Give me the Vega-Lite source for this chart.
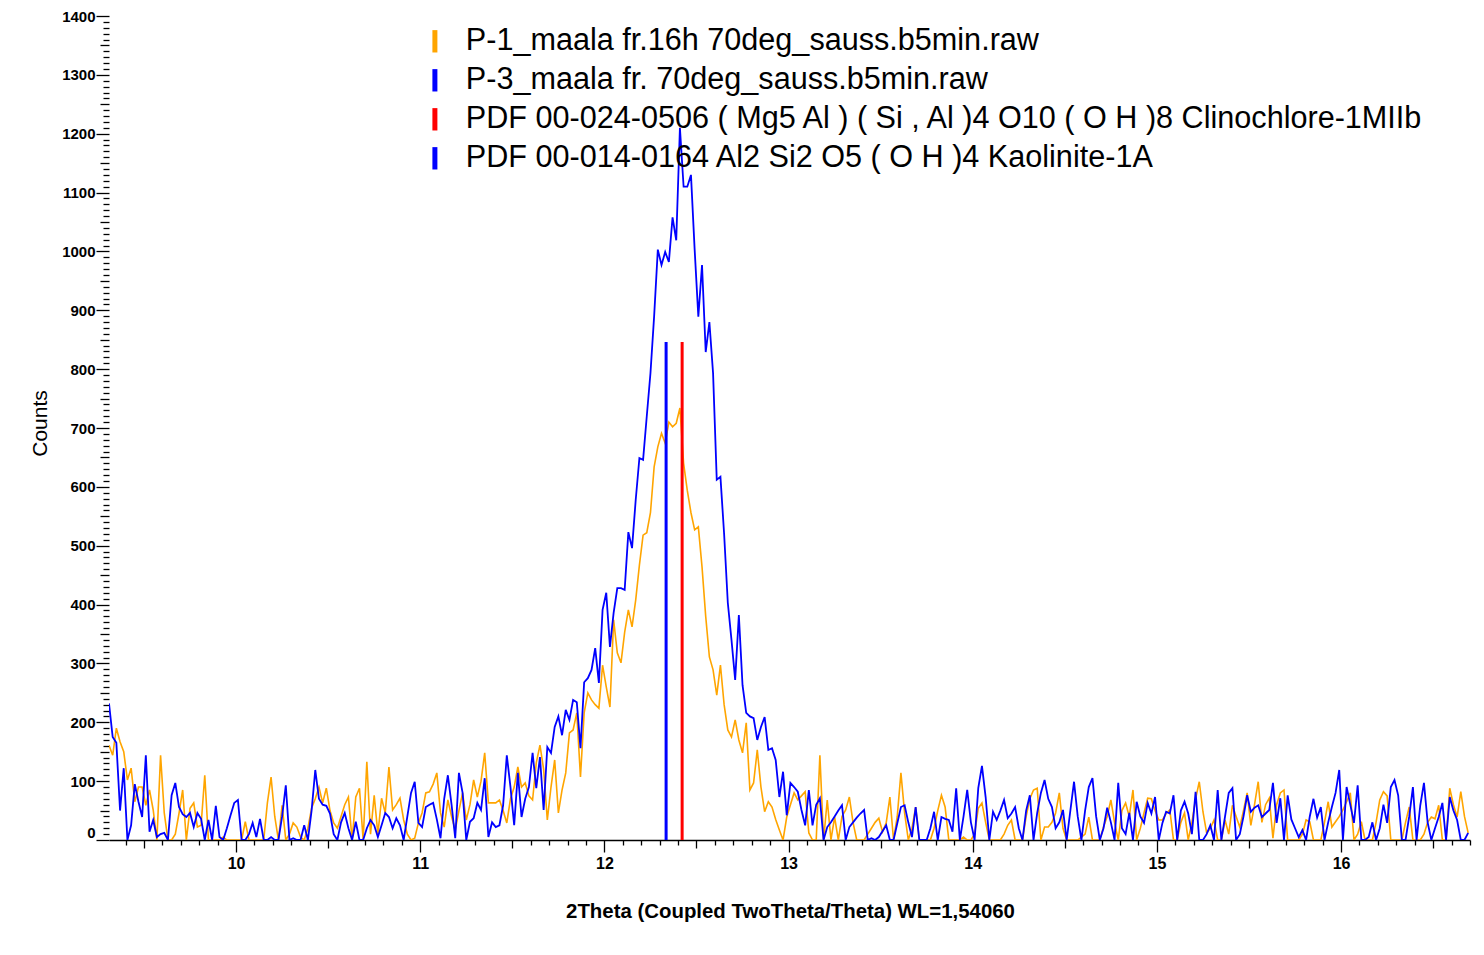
{
"$schema": "https://vega.github.io/schema/vega-lite/v6.json",
"width": 1361, "height": 824,
"autosize": {"type": "none"},
"padding": {"left": 109, "top": 16, "right": 14, "bottom": 115},
"background": "white",
"config": {"view": {"stroke": null}, "font": "Liberation Sans"},
"datasets": {
"scan": [
{"t":9.31,"P1":161,"P3":232},{"t":9.33,"P1":144,"P3":175},{"t":9.35,"P1":190,"P3":165},{"t":9.37,"P1":167,"P3":50},{"t":9.39,"P1":150,"P3":122},
{"t":9.41,"P1":102,"P3":0},{"t":9.43,"P1":122,"P3":25},{"t":9.45,"P1":65,"P3":95},{"t":9.47,"P1":90,"P3":65},{"t":9.49,"P1":90,"P3":39},
{"t":9.51,"P1":59,"P3":144},{"t":9.53,"P1":85,"P3":14},{"t":9.55,"P1":51,"P3":34},{"t":9.57,"P1":0,"P3":5},{"t":9.59,"P1":144,"P3":10},
{"t":9.61,"P1":46,"P3":12},{"t":9.63,"P1":0,"P3":0},{"t":9.65,"P1":0,"P3":76},{"t":9.67,"P1":10,"P3":97},{"t":9.69,"P1":45,"P3":56},
{"t":9.71,"P1":85,"P3":44},{"t":9.73,"P1":0,"P3":39},{"t":9.75,"P1":54,"P3":46},{"t":9.77,"P1":63,"P3":22},{"t":9.79,"P1":22,"P3":46},
{"t":9.81,"P1":25,"P3":36},{"t":9.83,"P1":110,"P3":0},{"t":9.85,"P1":0,"P3":34},{"t":9.87,"P1":0,"P3":0},{"t":9.89,"P1":0,"P3":58},
{"t":9.91,"P1":0,"P3":5},{"t":9.93,"P1":5,"P3":0},{"t":9.95,"P1":0,"P3":20},{"t":9.97,"P1":0,"P3":42},{"t":9.99,"P1":0,"P3":63},
{"t":10.01,"P1":0,"P3":68},{"t":10.03,"P1":0,"P3":0},{"t":10.05,"P1":31,"P3":0},{"t":10.07,"P1":0,"P3":10},{"t":10.09,"P1":0,"P3":29},
{"t":10.11,"P1":0,"P3":5},{"t":10.13,"P1":0,"P3":36},{"t":10.15,"P1":0,"P3":0},{"t":10.17,"P1":63,"P3":0},{"t":10.19,"P1":107,"P3":5},
{"t":10.21,"P1":40,"P3":0},{"t":10.23,"P1":0,"P3":0},{"t":10.25,"P1":59,"P3":40},{"t":10.27,"P1":0,"P3":93},{"t":10.29,"P1":10,"P3":0},
{"t":10.31,"P1":29,"P3":3},{"t":10.33,"P1":22,"P3":0},{"t":10.35,"P1":5,"P3":0},{"t":10.37,"P1":0,"P3":25},{"t":10.39,"P1":20,"P3":0},
{"t":10.41,"P1":54,"P3":50},{"t":10.43,"P1":70,"P3":119},{"t":10.45,"P1":90,"P3":70},{"t":10.47,"P1":63,"P3":60},{"t":10.49,"P1":88,"P3":58},
{"t":10.51,"P1":50,"P3":45},{"t":10.53,"P1":29,"P3":10},{"t":10.55,"P1":20,"P3":0},{"t":10.57,"P1":40,"P3":30},{"t":10.59,"P1":60,"P3":46},
{"t":10.61,"P1":73,"P3":20},{"t":10.63,"P1":0,"P3":0},{"t":10.65,"P1":73,"P3":31},{"t":10.67,"P1":88,"P3":0},{"t":10.69,"P1":0,"P3":0},
{"t":10.71,"P1":133,"P3":20},{"t":10.73,"P1":10,"P3":34},{"t":10.75,"P1":76,"P3":25},{"t":10.77,"P1":10,"P3":5},{"t":10.79,"P1":71,"P3":25},
{"t":10.81,"P1":46,"P3":46},{"t":10.83,"P1":124,"P3":39},{"t":10.85,"P1":51,"P3":20},{"t":10.87,"P1":60,"P3":37},{"t":10.89,"P1":71,"P3":25},
{"t":10.91,"P1":34,"P3":0},{"t":10.93,"P1":10,"P3":40},{"t":10.95,"P1":0,"P3":80},{"t":10.97,"P1":3,"P3":99},{"t":10.99,"P1":29,"P3":29},
{"t":11.01,"P1":46,"P3":22},{"t":11.03,"P1":80,"P3":56},{"t":11.05,"P1":82,"P3":60},{"t":11.07,"P1":95,"P3":63},{"t":11.09,"P1":114,"P3":35},
{"t":11.11,"P1":46,"P3":3},{"t":11.13,"P1":22,"P3":70},{"t":11.15,"P1":68,"P3":110},{"t":11.17,"P1":40,"P3":60},{"t":11.19,"P1":17,"P3":3},
{"t":11.21,"P1":50,"P3":114},{"t":11.23,"P1":80,"P3":80},{"t":11.25,"P1":34,"P3":0},{"t":11.27,"P1":60,"P3":31},{"t":11.29,"P1":102,"P3":37},
{"t":11.31,"P1":73,"P3":63},{"t":11.33,"P1":100,"P3":51},{"t":11.35,"P1":148,"P3":105},{"t":11.37,"P1":63,"P3":5},{"t":11.39,"P1":63,"P3":30},
{"t":11.41,"P1":63,"P3":22},{"t":11.43,"P1":68,"P3":25},{"t":11.45,"P1":50,"P3":59},{"t":11.47,"P1":29,"P3":144},{"t":11.49,"P1":70,"P3":90},
{"t":11.51,"P1":90,"P3":25},{"t":11.53,"P1":124,"P3":114},{"t":11.55,"P1":90,"P3":39},{"t":11.57,"P1":97,"P3":70},{"t":11.59,"P1":75,"P3":90},
{"t":11.61,"P1":68,"P3":148},{"t":11.63,"P1":131,"P3":88},{"t":11.65,"P1":161,"P3":141},{"t":11.67,"P1":120,"P3":51},{"t":11.69,"P1":34,"P3":158},
{"t":11.71,"P1":90,"P3":148},{"t":11.73,"P1":136,"P3":192},{"t":11.75,"P1":46,"P3":210},{"t":11.77,"P1":85,"P3":178},{"t":11.79,"P1":114,"P3":221},
{"t":11.81,"P1":182,"P3":204},{"t":11.83,"P1":187,"P3":238},{"t":11.85,"P1":216,"P3":234},{"t":11.87,"P1":107,"P3":156},{"t":11.89,"P1":216,"P3":268},
{"t":11.91,"P1":250,"P3":275},{"t":11.93,"P1":238,"P3":289},{"t":11.95,"P1":230,"P3":326},{"t":11.97,"P1":224,"P3":267},{"t":11.99,"P1":297,"P3":391},
{"t":12.01,"P1":260,"P3":420},{"t":12.03,"P1":226,"P3":328},{"t":12.05,"P1":374,"P3":386},{"t":12.07,"P1":318,"P3":428},{"t":12.09,"P1":301,"P3":428},
{"t":12.11,"P1":353,"P3":425},{"t":12.13,"P1":391,"P3":523},{"t":12.15,"P1":362,"P3":496},{"t":12.17,"P1":408,"P3":578},{"t":12.19,"P1":467,"P3":649},
{"t":12.21,"P1":518,"P3":646},{"t":12.23,"P1":522,"P3":720},{"t":12.25,"P1":556,"P3":793},{"t":12.27,"P1":634,"P3":890},{"t":12.29,"P1":668,"P3":1003},
{"t":12.31,"P1":691,"P3":977},{"t":12.33,"P1":674,"P3":999},{"t":12.35,"P1":710,"P3":982},{"t":12.37,"P1":702,"P3":1058},{"t":12.39,"P1":708,"P3":1019},
{"t":12.41,"P1":734,"P3":1210},{"t":12.43,"P1":640,"P3":1110},{"t":12.45,"P1":594,"P3":1110},{"t":12.47,"P1":556,"P3":1130},{"t":12.49,"P1":527,"P3":1003},
{"t":12.51,"P1":532,"P3":889},{"t":12.53,"P1":464,"P3":977},{"t":12.55,"P1":380,"P3":829},{"t":12.57,"P1":311,"P3":880},{"t":12.59,"P1":289,"P3":793},
{"t":12.61,"P1":246,"P3":612},{"t":12.63,"P1":297,"P3":617},{"t":12.65,"P1":230,"P3":520},{"t":12.67,"P1":187,"P3":403},{"t":12.69,"P1":175,"P3":340},
{"t":12.71,"P1":204,"P3":272},{"t":12.73,"P1":170,"P3":382},{"t":12.75,"P1":148,"P3":263},{"t":12.77,"P1":199,"P3":216},{"t":12.79,"P1":85,"P3":210},
{"t":12.81,"P1":97,"P3":207},{"t":12.83,"P1":153,"P3":170},{"t":12.85,"P1":90,"P3":192},{"t":12.87,"P1":48,"P3":209},{"t":12.89,"P1":65,"P3":153},
{"t":12.91,"P1":56,"P3":156},{"t":12.93,"P1":35,"P3":136},{"t":12.95,"P1":17,"P3":73},{"t":12.97,"P1":0,"P3":116},{"t":12.99,"P1":39,"P3":42},
{"t":13.01,"P1":60,"P3":97},{"t":13.03,"P1":80,"P3":90},{"t":13.05,"P1":68,"P3":82},{"t":13.07,"P1":75,"P3":51},{"t":13.09,"P1":82,"P3":25},
{"t":13.11,"P1":12,"P3":85},{"t":13.13,"P1":0,"P3":25},{"t":13.15,"P1":0,"P3":60},{"t":13.17,"P1":144,"P3":71},{"t":13.19,"P1":0,"P3":0},
{"t":13.21,"P1":68,"P3":22},{"t":13.23,"P1":0,"P3":30},{"t":13.25,"P1":39,"P3":40},{"t":13.27,"P1":0,"P3":50},{"t":13.29,"P1":40,"P3":59},
{"t":13.31,"P1":51,"P3":0},{"t":13.33,"P1":73,"P3":22},{"t":13.35,"P1":30,"P3":30},{"t":13.37,"P1":0,"P3":38},{"t":13.39,"P1":0,"P3":45},
{"t":13.41,"P1":0,"P3":51},{"t":13.43,"P1":10,"P3":0},{"t":13.45,"P1":20,"P3":3},{"t":13.47,"P1":30,"P3":0},{"t":13.49,"P1":37,"P3":5},
{"t":13.51,"P1":14,"P3":15},{"t":13.53,"P1":29,"P3":25},{"t":13.55,"P1":73,"P3":0},{"t":13.57,"P1":0,"P3":0},{"t":13.59,"P1":40,"P3":28},
{"t":13.61,"P1":114,"P3":56},{"t":13.63,"P1":46,"P3":59},{"t":13.65,"P1":0,"P3":30},{"t":13.67,"P1":20,"P3":5},{"t":13.69,"P1":56,"P3":56},
{"t":13.71,"P1":0,"P3":0},{"t":13.73,"P1":0,"P3":0},{"t":13.75,"P1":0,"P3":0},{"t":13.77,"P1":0,"P3":20},{"t":13.79,"P1":20,"P3":48},
{"t":13.81,"P1":50,"P3":0},{"t":13.83,"P1":76,"P3":39},{"t":13.85,"P1":56,"P3":36},{"t":13.87,"P1":0,"P3":34},{"t":13.89,"P1":0,"P3":14},
{"t":13.91,"P1":0,"P3":88},{"t":13.93,"P1":0,"P3":0},{"t":13.95,"P1":5,"P3":40},{"t":13.97,"P1":0,"P3":85},{"t":13.99,"P1":0,"P3":30},
{"t":14.01,"P1":10,"P3":0},{"t":14.03,"P1":54,"P3":88},{"t":14.05,"P1":63,"P3":126},{"t":14.07,"P1":30,"P3":73},{"t":14.09,"P1":0,"P3":0},
{"t":14.11,"P1":0,"P3":48},{"t":14.13,"P1":0,"P3":34},{"t":14.15,"P1":0,"P3":50},{"t":14.17,"P1":10,"P3":68},{"t":14.19,"P1":25,"P3":37},
{"t":14.21,"P1":34,"P3":45},{"t":14.23,"P1":0,"P3":56},{"t":14.25,"P1":0,"P3":20},{"t":14.27,"P1":0,"P3":0},{"t":14.29,"P1":40,"P3":50},
{"t":14.31,"P1":70,"P3":76},{"t":14.33,"P1":85,"P3":0},{"t":14.35,"P1":88,"P3":46},{"t":14.37,"P1":0,"P3":80},{"t":14.39,"P1":22,"P3":102},
{"t":14.41,"P1":22,"P3":70},{"t":14.43,"P1":30,"P3":56},{"t":14.45,"P1":46,"P3":20},{"t":14.47,"P1":80,"P3":30},{"t":14.49,"P1":20,"P3":51},
{"t":14.51,"P1":0,"P3":0},{"t":14.53,"P1":0,"P3":50},{"t":14.55,"P1":0,"P3":99},{"t":14.57,"P1":0,"P3":40},{"t":14.59,"P1":5,"P3":0},
{"t":14.61,"P1":10,"P3":50},{"t":14.63,"P1":39,"P3":90},{"t":14.65,"P1":0,"P3":105},{"t":14.67,"P1":0,"P3":40},{"t":14.69,"P1":0,"P3":0},
{"t":14.71,"P1":22,"P3":20},{"t":14.73,"P1":40,"P3":55},{"t":14.75,"P1":68,"P3":30},{"t":14.77,"P1":30,"P3":0},{"t":14.79,"P1":0,"P3":97},
{"t":14.81,"P1":50,"P3":20},{"t":14.83,"P1":63,"P3":10},{"t":14.85,"P1":40,"P3":46},{"t":14.87,"P1":85,"P3":0},{"t":14.89,"P1":0,"P3":65},
{"t":14.91,"P1":20,"P3":40},{"t":14.93,"P1":46,"P3":29},{"t":14.95,"P1":71,"P3":63},{"t":14.97,"P1":70,"P3":45},{"t":14.99,"P1":50,"P3":73},
{"t":15.01,"P1":34,"P3":0},{"t":15.03,"P1":34,"P3":29},{"t":15.05,"P1":45,"P3":48},{"t":15.07,"P1":51,"P3":45},{"t":15.09,"P1":0,"P3":76},
{"t":15.11,"P1":0,"P3":0},{"t":15.13,"P1":30,"P3":50},{"t":15.15,"P1":46,"P3":65},{"t":15.17,"P1":0,"P3":45},{"t":15.19,"P1":30,"P3":10},
{"t":15.21,"P1":70,"P3":82},{"t":15.23,"P1":99,"P3":0},{"t":15.25,"P1":48,"P3":0},{"t":15.27,"P1":12,"P3":10},{"t":15.29,"P1":20,"P3":25},
{"t":15.31,"P1":34,"P3":0},{"t":15.33,"P1":0,"P3":85},{"t":15.35,"P1":0,"P3":0},{"t":15.37,"P1":34,"P3":40},{"t":15.39,"P1":10,"P3":80},
{"t":15.41,"P1":59,"P3":88},{"t":15.43,"P1":40,"P3":0},{"t":15.45,"P1":22,"P3":10},{"t":15.47,"P1":50,"P3":40},{"t":15.49,"P1":80,"P3":76},
{"t":15.51,"P1":25,"P3":48},{"t":15.53,"P1":60,"P3":55},{"t":15.55,"P1":99,"P3":59},{"t":15.57,"P1":30,"P3":39},{"t":15.59,"P1":60,"P3":45},
{"t":15.61,"P1":71,"P3":51},{"t":15.63,"P1":3,"P3":97},{"t":15.65,"P1":60,"P3":29},{"t":15.67,"P1":80,"P3":71},{"t":15.69,"P1":85,"P3":0},
{"t":15.71,"P1":0,"P3":76},{"t":15.73,"P1":0,"P3":35},{"t":15.75,"P1":0,"P3":20},{"t":15.77,"P1":0,"P3":5},{"t":15.79,"P1":10,"P3":17},
{"t":15.81,"P1":34,"P3":0},{"t":15.83,"P1":31,"P3":40},{"t":15.85,"P1":0,"P3":70},{"t":15.87,"P1":0,"P3":38},{"t":15.89,"P1":0,"P3":56},
{"t":15.91,"P1":30,"P3":0},{"t":15.93,"P1":65,"P3":30},{"t":15.95,"P1":22,"P3":56},{"t":15.97,"P1":31,"P3":80},{"t":15.99,"P1":40,"P3":119},
{"t":16.01,"P1":51,"P3":0},{"t":16.03,"P1":65,"P3":90},{"t":16.05,"P1":80,"P3":60},{"t":16.07,"P1":0,"P3":29},{"t":16.09,"P1":10,"P3":93},
{"t":16.11,"P1":31,"P3":0},{"t":16.13,"P1":0,"P3":0},{"t":16.15,"P1":0,"P3":5},{"t":16.17,"P1":0,"P3":30},{"t":16.19,"P1":30,"P3":0},
{"t":16.21,"P1":68,"P3":20},{"t":16.23,"P1":82,"P3":60},{"t":16.25,"P1":75,"P3":29},{"t":16.27,"P1":0,"P3":90},{"t":16.29,"P1":0,"P3":102},
{"t":16.31,"P1":0,"P3":76},{"t":16.33,"P1":0,"P3":0},{"t":16.35,"P1":30,"P3":0},{"t":16.37,"P1":56,"P3":40},{"t":16.39,"P1":0,"P3":90},
{"t":16.41,"P1":0,"P3":0},{"t":16.43,"P1":0,"P3":59},{"t":16.45,"P1":10,"P3":97},{"t":16.47,"P1":30,"P3":30},{"t":16.49,"P1":39,"P3":0},
{"t":16.51,"P1":36,"P3":20},{"t":16.53,"P1":59,"P3":39},{"t":16.55,"P1":0,"P3":63},{"t":16.57,"P1":0,"P3":0},{"t":16.59,"P1":88,"P3":73},
{"t":16.61,"P1":60,"P3":50},{"t":16.63,"P1":39,"P3":34},{"t":16.65,"P1":82,"P3":0},{"t":16.67,"P1":40,"P3":0},{"t":16.69,"P1":12,"P3":12}
],
"ref": [
{"t":12.422,"v":846,"s":"Clino"},
{"t":12.335,"v":846,"s":"Kaol"}
]
},
"encoding": {
"x": {"field": "t", "type": "quantitative",
 "scale": {"domain": [9.31, 16.70], "nice": false, "zero": false},
 "axis": {
  "title": "2Theta (Coupled TwoTheta/Theta) WL=1,54060",
  "titleFont": "Liberation Sans", "titleFontSize": 20.4, "titleFontWeight": "bold", "titleColor": "#000",
  "titleX": 681, "titleY": 71, "titleBaseline": "middle", "titleAnchor": null, "titleAlign": "center",
  "values": [9.4,9.5,9.6,9.7,9.8,9.9,10,10.1,10.2,10.3,10.4,10.5,10.6,10.7,10.8,10.9,11,11.1,11.2,11.3,11.4,11.5,11.6,11.7,11.8,11.9,12,12.1,12.2,12.3,12.4,12.5,12.6,12.7,12.8,12.9,13,13.1,13.2,13.3,13.4,13.5,13.6,13.7,13.8,13.9,14,14.1,14.2,14.3,14.4,14.5,14.6,14.7,14.8,14.9,15,15.1,15.2,15.3,15.4,15.5,15.6,15.7,15.8,15.9,16,16.1,16.2,16.3,16.4,16.5,16.6,16.7],
  "labelExpr": "abs(datum.value - round(datum.value)) < 0.01 ? format(datum.value, 'd') : ''",
  "tickSize": {"expr": "abs(datum.value - round(datum.value)) < 0.01 ? 12 : (abs(datum.value*2 - round(datum.value*2)) < 0.01 ? 8 : 5)"},
  "labelPadding": 3, "labelFontSize": 16, "labelFontWeight": "bold", "labelColor": "#000", "labelFont": "Liberation Sans",
  "labelOverlap": false, "labelFlush": false, "labelBound": false,
  "tickColor": "#000", "tickWidth": 1.3, "domainColor": "#000", "domainWidth": 1.5, "grid": false
 }
},
"y": {"field": "v", "type": "quantitative",
 "scale": {"domain": [0, 1400], "nice": false},
 "axis": {
  "title": "Counts", "titleFont": "Liberation Sans", "titleFontSize": 21, "titleFontWeight": "normal", "titleColor": "#000",
  "titleX": -69, "titleY": 407, "titleAngle": 270, "titleAlign": "center", "titleBaseline": "middle", "titleAnchor": null,
  "values": [0,10,20,30,40,50,60,70,80,90,100,110,120,130,140,150,160,170,180,190,200,210,220,230,240,250,260,270,280,290,300,310,320,330,340,350,360,370,380,390,400,410,420,430,440,450,460,470,480,490,500,510,520,530,540,550,560,570,580,590,600,610,620,630,640,650,660,670,680,690,700,710,720,730,740,750,760,770,780,790,800,810,820,830,840,850,860,870,880,890,900,910,920,930,940,950,960,970,980,990,1000,1010,1020,1030,1040,1050,1060,1070,1080,1090,1100,1110,1120,1130,1140,1150,1160,1170,1180,1190,1200,1210,1220,1230,1240,1250,1260,1270,1280,1290,1300,1310,1320,1330,1340,1350,1360,1370,1380,1390,1400],
  "format": "d",
  "labelExpr": "datum.value % 100 === 0 ? datum.label : ''",
  "tickSize": {"expr": "datum.value % 100 === 0 ? 13 : (datum.value % 50 === 0 ? 9 : 6)"},
  "labelOffset": {"expr": "datum.value === 0 ? -8 : 0"},
  "labelPadding": 1, "labelFontSize": 15, "labelFontWeight": "bold", "labelColor": "#000", "labelFont": "Liberation Sans",
  "labelOverlap": false, "labelFlush": false, "labelBound": false,
  "tickColor": "#000", "tickWidth": 1.3, "domain": false, "grid": false
 }
}
},
"layer": [
{
 "data": {"name": "scan"},
 "transform": [{"fold": ["P1"], "as": ["s", "v"]}],
 "mark": {"type": "line", "strokeWidth": 1.6, "clip": true},
 "encoding": {
  "color": {"field": "s", "type": "nominal",
   "scale": {"domain": ["P1", "P3", "Clino", "Kaol"], "range": ["#FFA500", "#0000FF", "#FF0000", "#0000FF"]},
   "legend": {
    "orient": "none", "legendX": 310.6, "legendY": 10, "title": null,
    "labelExpr": "datum.value === 'P1' ? 'P-1_maala fr.16h 70deg_sauss.b5min.raw' : datum.value === 'P3' ? 'P-3_maala fr. 70deg_sauss.b5min.raw' : datum.value === 'Clino' ? 'PDF 00-024-0506 ( Mg5 Al ) ( Si , Al )4 O10 ( O H )8 Clinochlore-1MIIb' : 'PDF 00-014-0164 Al2 Si2 O5 ( O H )4 Kaolinite-1A'",
    "labelFont": "Liberation Sans", "labelFontSize": 30.6, "labelColor": "#000", "labelLimit": 2000,
    "symbolType": "M0,-2L0,2", "symbolSize": 125, "symbolStrokeWidth": 5,
    "labelOffset": 15.6, "rowPadding": -4
   }
  }
 }
},
{
 "data": {"name": "scan"},
 "transform": [{"fold": ["P3"], "as": ["s", "v"]}],
 "mark": {"type": "line", "strokeWidth": 1.8, "clip": true},
 "encoding": {
  "color": {"field": "s", "type": "nominal"}
 }
},
{
 "data": {"name": "ref"},
 "mark": {"type": "rule", "strokeWidth": 3},
 "encoding": {
  "y2": {"datum": 0},
  "color": {"field": "s", "type": "nominal"}
 }
}
]
}
